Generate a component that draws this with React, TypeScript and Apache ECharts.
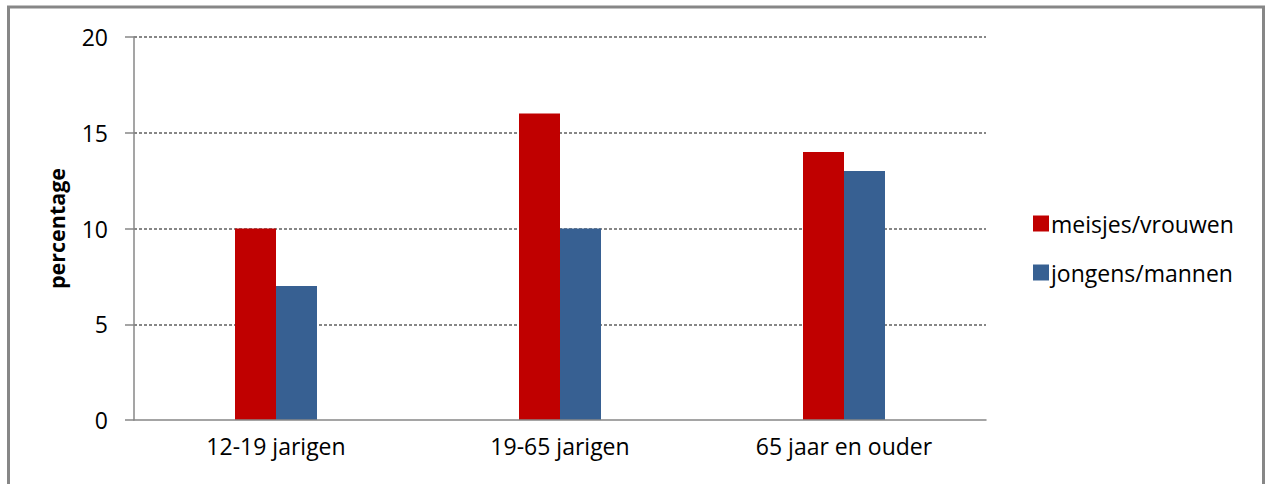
import React, { useEffect, useRef } from "react";
import * as echarts from "echarts";

const categories = ["12-19 jarigen", "19-65 jarigen", "65 jaar en ouder"];
const seriesNames = ["meisjes/vrouwen", "jongens/mannen"];
const womenValues = [10, 16, 14];
const menValues = [7, 10, 13];
const yTicks = [0, 5, 10, 15, 20];

const FONT = "'Open Sans', 'Noto Sans', sans-serif";

export default function App() {
  const ref = useRef<HTMLDivElement>(null);
  useEffect(() => {
    document.body.style.margin = "0";
    const chart = echarts.init(ref.current!, null, { renderer: "svg" });
    chart.setOption({
      animation: false,
      backgroundColor: "#ffffff",
      textStyle: { fontFamily: FONT },
      graphic: [
        {
          type: "rect",
          shape: { x: 8.5, y: 7, width: 1255, height: 500 },
          style: { fill: "none", stroke: "#878787", lineWidth: 3 },
          silent: true,
        },
      ],
      grid: { left: 134, right: 280, top: 37, bottom: 64 },
      legend: {
        orient: "vertical",
        left: 1028,
        top: 207,
        itemWidth: 16,
        itemHeight: 16,
        itemGap: 26,
        icon: "rect",
        textStyle: { fontSize: 23, color: "#000", fontFamily: FONT, lineHeight: 23, padding: [0, 0, 0, -3] },
        data: seriesNames,
      },
      xAxis: {
        type: "category",
        data: categories,
        axisLine: { lineStyle: { color: "#878787", width: 1.5 } },
        axisTick: { show: false },
        axisLabel: { fontSize: 23, color: "#000", margin: 14, fontFamily: FONT },
        z: 5,
      },
      yAxis: {
        type: "value",
        min: yTicks[0],
        max: yTicks[yTicks.length - 1],
        interval: 5,
        name: "percentage",
        nameLocation: "middle",
        nameGap: 67,
        nameTextStyle: { fontSize: 21.5, fontWeight: "bold", color: "#000", fontFamily: FONT },
        axisLine: { show: true, lineStyle: { color: "#878787", width: 1.5 } },
        axisTick: { show: true, length: 9, lineStyle: { color: "#878787", width: 1.5 } },
        axisLabel: { fontSize: 23, color: "#000", margin: 26, fontFamily: FONT },
        splitLine: { show: true, showMinLine: false, lineStyle: { color: "#878787", width: 2, type: [3, 2] } },
      },
      series: [
        {
          name: seriesNames[0],
          type: "bar",
          data: womenValues,
          barWidth: 41,
          barGap: "0%",
          itemStyle: { color: "#C00000" },
        },
        {
          name: seriesNames[1],
          type: "bar",
          data: menValues,
          barWidth: 41,
          barGap: "0%",
          itemStyle: { color: "#376092" },
        },
      ],
    });
    return () => chart.dispose();
  }, []);
  return (
    <div
      ref={ref}
      style={{ position: "absolute", left: 0, top: 0, width: 1266, height: 484 }}
    />
  );
}
